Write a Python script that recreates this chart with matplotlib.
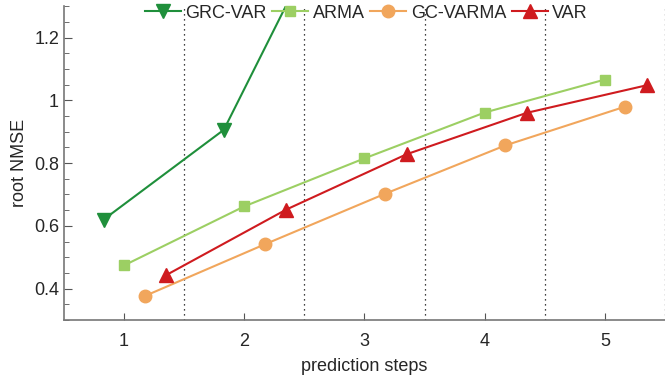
import numpy as np
import matplotlib
matplotlib.use('Agg')
import matplotlib.pyplot as plt
from matplotlib.ticker import MultipleLocator, FormatStrFormatter

plt.rcParams['font.family'] = ['Liberation Sans', 'DejaVu Sans']
plt.rcParams['font.size'] = 13

steps = np.array([1, 2, 3, 4, 5])
grc_var = [0.620, 0.906, 1.670]
arma = [0.474, 0.662, 0.815, 0.961, 1.066]
gc_varma = [0.376, 0.541, 0.702, 0.856, 0.980]
var = [0.443, 0.652, 0.828, 0.960, 1.048]

fig = plt.figure(figsize=(6.65, 3.82), dpi=100)
ax = fig.add_axes([0.0962, 0.1623, 0.9038, 0.8217])

for xv in [1.5, 2.5, 3.5, 4.5, 5.5]:
    ax.axvline(xv, color='black', linestyle=(0, (1, 3)), linewidth=0.9)

ax.plot(steps[:3] - 0.17, grc_var, color='#1f8f3b', marker='v', markersize=10, linewidth=1.5, label='GRC-VAR')
ax.plot(steps, arma, color='#9ccf63', marker='s', markersize=7, linewidth=1.5, label='ARMA')
ax.plot(steps + 0.17, gc_varma, color='#f1a65c', marker='o', markersize=9, linewidth=1.5, label='GC-VARMA')
ax.plot(steps + 0.35, var, color='#cf1b1f', marker='^', markersize=10, linewidth=1.5, label='VAR')

ax.set_xlim(0.5, 5.5)
ax.set_ylim(0.3, 1.3)
ax.set_xticks(steps)
ax.yaxis.set_major_locator(MultipleLocator(0.2))
ax.yaxis.set_minor_locator(MultipleLocator(0.05))
ax.yaxis.set_major_formatter(FormatStrFormatter('%g'))
ax.tick_params(direction='in', colors='#262626', labelsize=13, color='#555555')
ax.tick_params(axis='y', which='major', length=6)
ax.tick_params(axis='y', which='minor', length=3.5, direction='in', color='#555555')
ax.tick_params(axis='x', length=5, pad=9)
for s in ['top', 'right']:
    ax.spines[s].set_visible(False)
for s in ['left', 'bottom']:
    ax.spines[s].set_color('#777777')
    ax.spines[s].set_linewidth(1.2)

ax.set_xlabel('prediction steps', fontsize=13, color='#262626', labelpad=6)
ax.set_ylabel('root NMSE', fontsize=13, color='#262626', labelpad=4)

leg = ax.legend(loc='center', bbox_to_anchor=(0.503, 0.978), ncol=4, frameon=False,
                handlelength=2.0, columnspacing=0.3, handletextpad=0.25, fontsize=13,
                borderaxespad=0)
for t in leg.get_texts():
    t.set_color('#262626')

fig.savefig('out.png', dpi=100)
